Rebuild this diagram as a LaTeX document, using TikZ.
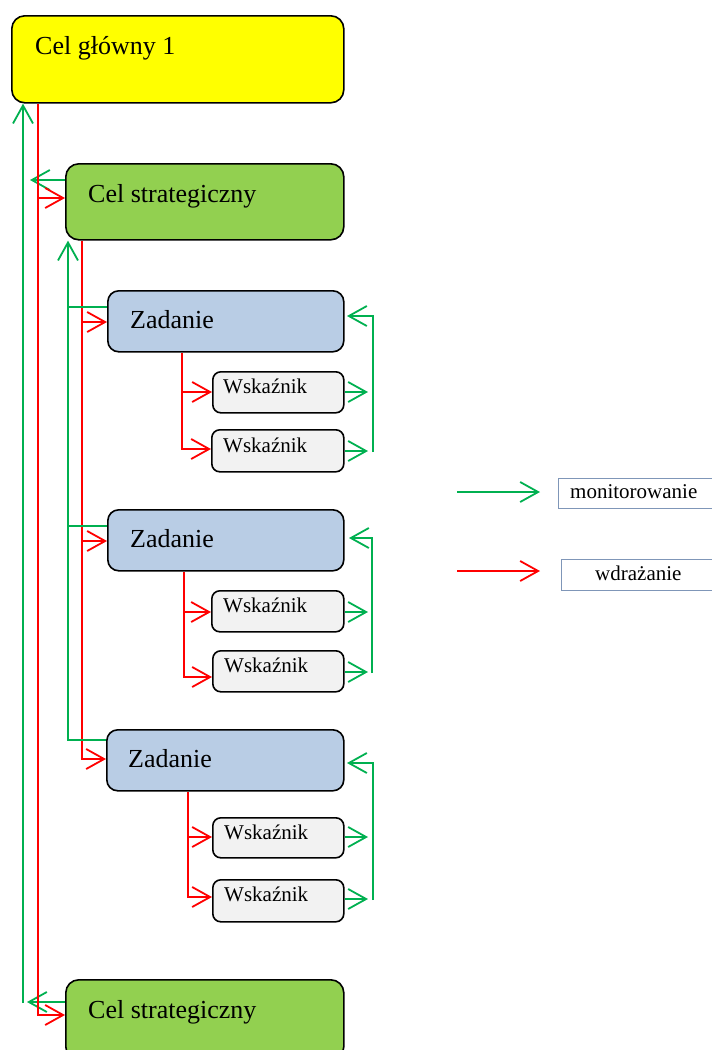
\documentclass[tikz,border=0pt]{standalone}
\usepackage{fontspec}
\setmainfont{Liberation Serif}
\usetikzlibrary{arrows.meta,calc}
\definecolor{cgyellow}{HTML}{FFFF00}
\definecolor{csgreen}{HTML}{92D050}
\definecolor{zblue}{HTML}{B9CDE5}
\definecolor{wgray}{HTML}{F2F2F2}
\definecolor{mongreen}{HTML}{00B050}
\definecolor{implred}{HTML}{FF0000}
\definecolor{legborder}{HTML}{7F96B8}
\begin{document}
\begin{tikzpicture}[x=1pt,y=-1pt,
  box/.style={draw=black, line width=1.6pt, anchor=north west, inner sep=0pt},
  big/.style={anchor=base west, inner sep=0pt, font=\fontsize{26}{30}\selectfont},
  small/.style={anchor=base west, inner sep=0pt, font=\fontsize{21}{25}\selectfont},
  mon/.style={draw=mongreen, line width=1.8pt, -{Straight Barb[length=18pt,width=20pt]}},
  monline/.style={draw=mongreen, line width=1.8pt},
  impl/.style={draw=implred, line width=1.8pt, -{Straight Barb[length=18pt,width=20pt]}},
  legbox/.style={draw=legborder, line width=1pt, anchor=north west, inner sep=0pt}
]
\useasboundingbox (0,0) rectangle (712,1050);

% boxes
\node[box, fill=cgyellow, rounded corners=13pt, minimum width=332pt, minimum height=87pt] (cg) at (11,15) {};
\node[big] (cgt) at (35,54) {Cel główny 1};

\node[box, fill=csgreen, rounded corners=13pt, minimum width=278pt, minimum height=76pt] (cs1) at (65,163) {};
\node[big] (cs1t) at (88,202) {Cel strategiczny};

\node[box, fill=zblue, rounded corners=11pt, minimum width=236pt, minimum height=61pt] (z1) at (107,290) {};
\node[big] (z1t) at (130,328) {Zadanie};
\node[box, fill=wgray, rounded corners=8pt, minimum width=131pt, minimum height=41pt] (w1) at (212,371) {};
\node[small] (w1t) at (223,393) {Wskaźnik};
\node[box, fill=wgray, rounded corners=8pt, minimum width=132pt, minimum height=42pt] (w2) at (211,429) {};
\node[small] (w2t) at (223,452) {Wskaźnik};

\node[box, fill=zblue, rounded corners=11pt, minimum width=236pt, minimum height=61pt] (z2) at (107,509) {};
\node[big] (z2t) at (130,547) {Zadanie};
\node[box, fill=wgray, rounded corners=8pt, minimum width=132pt, minimum height=41pt] (w3) at (211,590) {};
\node[small] (w3t) at (223,612) {Wskaźnik};
\node[box, fill=wgray, rounded corners=8pt, minimum width=131pt, minimum height=41pt] (w4) at (212,650) {};
\node[small] (w4t) at (224,672) {Wskaźnik};

\node[box, fill=zblue, rounded corners=11pt, minimum width=237pt, minimum height=61pt] (z3) at (106,729) {};
\node[big] (z3t) at (128,767) {Zadanie};
\node[box, fill=wgray, rounded corners=8pt, minimum width=131pt, minimum height=40pt] (w5) at (212,817) {};
\node[small] (w5t) at (224,839) {Wskaźnik};
\node[box, fill=wgray, rounded corners=8pt, minimum width=131pt, minimum height=42pt] (w6) at (212,879) {};
\node[small] (w6t) at (224,901) {Wskaźnik};

\node[box, fill=csgreen, rounded corners=13pt, minimum width=278pt, minimum height=80pt] (cs2) at (65,979) {};
\node[big] (cs2t) at (88,1018) {Cel strategiczny};

% level 1 monitoring (green)
\coordinate (gA) at (23,1003);
\draw[mon] (gA) -- (gA |- cg.south);
\coordinate (gB) at (30,180);
\draw[mon] (cs1.west |- gB) -- (gB);
\coordinate (gC) at (27,1002);
\draw[mon] (cs2.west |- gC) -- (gC);

% level 1 implementation (red)
\coordinate (rA) at (38,1015);
\draw[impl] (rA |- cg.south) -- (rA) -- (cs2.west |- rA);
\coordinate (rB) at (38,198);
\draw[impl] (rB) -- (cs1.west |- rB);

% level 2 implementation (red)
\coordinate (rC) at (82,759);
\draw[impl] (rC |- cs1.south) -- (rC) -- (z3.west |- rC);
\coordinate (rD) at (82,322);
\draw[impl] (rD) -- (z1.west |- rD);
\coordinate (rE) at (82,541);
\draw[impl] (rE) -- (z2.west |- rE);

% level 2 monitoring (green)
\coordinate (gD) at (68,740);
\draw[mon] (z3.west |- gD) -- (gD) -- (gD |- cs1.south);
\coordinate (gE) at (68,307);
\draw[monline] (z1.west |- gE) -- (gE);
\coordinate (gF) at (68,526);
\draw[monline] (z2.west |- gF) -- (gF);

% group 1
\coordinate (r1) at (182,449);
\draw[impl] (r1 |- z1.south) -- (r1) -- (w2.west |- r1);
\coordinate (r1b) at (182,392);
\draw[impl] (r1b) -- (w1.west |- r1b);
\coordinate (g1a) at (368,392);
\draw[mon] (w1.east |- g1a) -- (g1a);
\coordinate (g1b) at (368,451);
\draw[mon] (w2.east |- g1b) -- (g1b);
\coordinate (g1v) at (373,452);
\coordinate (g1e) at (347,316);
\draw[mon] (g1v) -- (g1v |- g1e) -- (g1e);

% group 2
\coordinate (r2) at (184,677);
\draw[impl] (r2 |- z2.south) -- (r2) -- (w4.west |- r2);
\coordinate (r2b) at (184,612);
\draw[impl] (r2b) -- (w3.west |- r2b);
\coordinate (g2a) at (368,612);
\draw[mon] (w3.east |- g2a) -- (g2a);
\coordinate (g2b) at (368,672);
\draw[mon] (w4.east |- g2b) -- (g2b);
\coordinate (g2v) at (372,673);
\coordinate (g2e) at (349,538);
\draw[mon] (g2v) -- (g2v |- g2e) -- (g2e);

% group 3
\coordinate (r3) at (188,897);
\draw[impl] (r3 |- z3.south) -- (r3) -- (w6.west |- r3);
\coordinate (r3b) at (188,837);
\draw[impl] (r3b) -- (w5.west |- r3b);
\coordinate (g3a) at (368,837);
\draw[mon] (w5.east |- g3a) -- (g3a);
\coordinate (g3b) at (368,899);
\draw[mon] (w6.east |- g3b) -- (g3b);
\coordinate (g3v) at (373,900);
\coordinate (g3e) at (347,763);
\draw[mon] (g3v) -- (g3v |- g3e) -- (g3e);

% legend
\node[legbox, minimum width=170pt, minimum height=30pt] (lbm) at (558,478) {};
\node[small] (lbmt) at (570,498) {monitorowanie};
\coordinate (lm1) at (457,492);
\coordinate (lm2) at (540,492);
\draw[mon] (lm1) -- (lm2);

\node[legbox, minimum width=170pt, minimum height=31pt] (lbw) at (561,559) {};
\node[small] (lbwt) at (595,580) {wdrażanie};
\coordinate (lw1) at (457,571);
\coordinate (lw2) at (540,571);
\draw[impl] (lw1) -- (lw2);
\end{tikzpicture}
\end{document}
